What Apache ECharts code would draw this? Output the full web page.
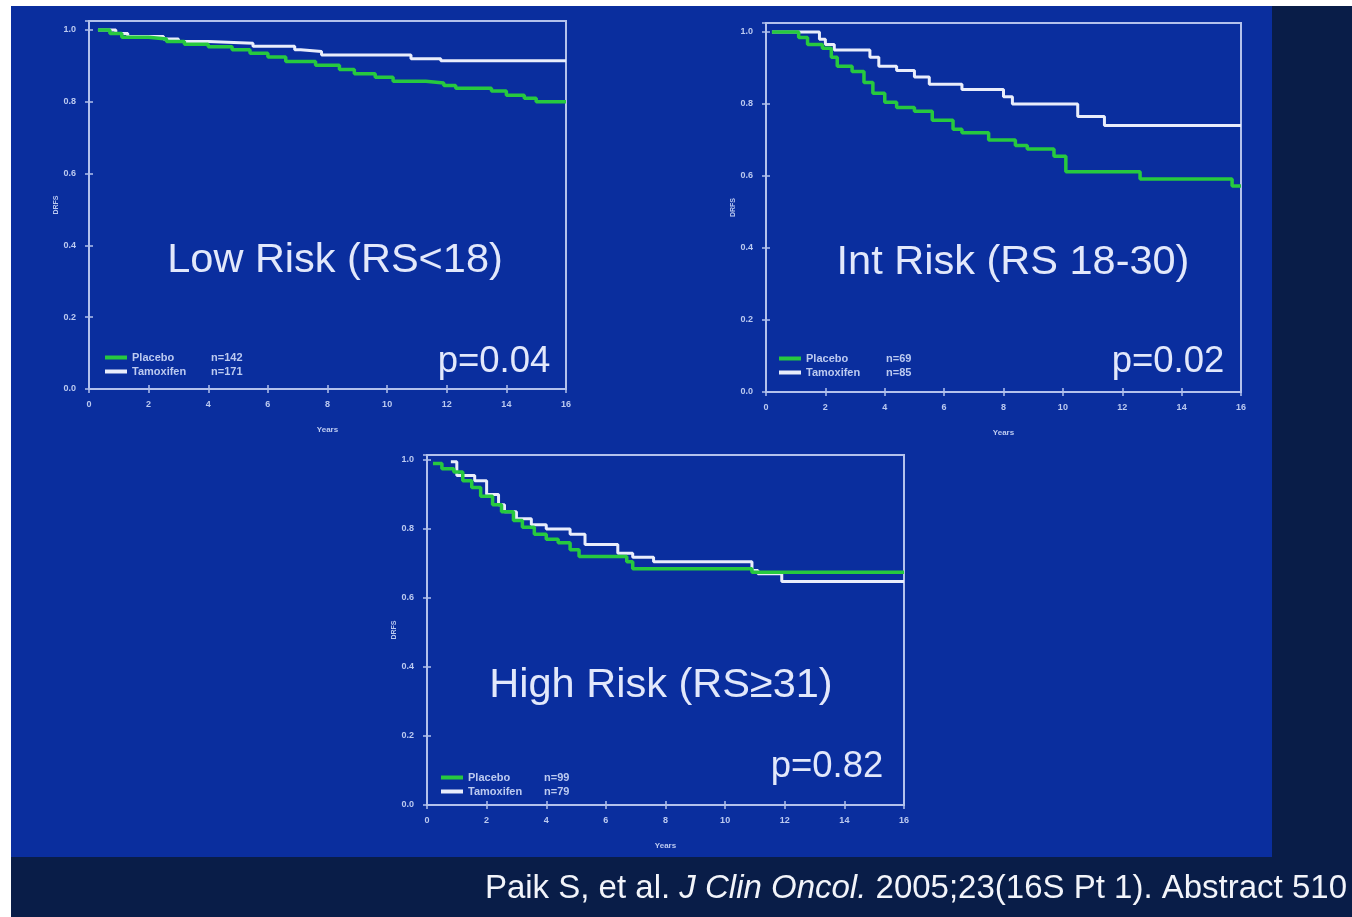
<!DOCTYPE html>
<html>
<head>
<meta charset="utf-8">
<script src="https://cdn.jsdelivr.net/npm/echarts@6/dist/echarts.min.js"></script>
<style>
html,body{margin:0;padding:0;background:#ffffff;}
#chart{width:1352px;height:917px;}
</style>
</head>
<body>
<div id="chart"></div>
<script>
// ---------- DATA ----------
var panelTitles = ['Low Risk (RS<18)', 'Int Risk (RS 18-30)', 'High Risk (RS\u226531)'];
var pValues = ['p=0.04', 'p=0.02', 'p=0.82'];
var seriesNames = ['Placebo', 'Tamoxifen'];
var nPlacebo = ['n=142', 'n=69', 'n=99'];
var nTamoxifen = ['n=171', 'n=85', 'n=79'];
var xTickValues = [0, 2, 4, 6, 8, 10, 12, 14, 16];
var yTickValues = [0.0, 0.2, 0.4, 0.6, 0.8, 1.0];
var xAxisName = 'Years';
var yAxisName = 'DRFS';
var citation = ['Paik S, et al. ', 'J Clin Oncol.', ' 2005;23(16S Pt 1). Abstract 510'];

// Kaplan-Meier steps: [years, DRFS after step]
var lowPlacebo = [[0.3,1.0],[0.7,0.99],[1.1,0.98],[2.0,0.975],[2.6,0.968],[3.2,0.96],[4.0,0.953],[4.8,0.945],[5.4,0.935],[6.0,0.925],[6.6,0.912],[7.6,0.902],[8.4,0.89],[8.9,0.878],[9.6,0.868],[10.2,0.857],[11.3,0.852],[11.9,0.845],[12.3,0.838],[13.5,0.83],[14.0,0.818],[14.6,0.81],[15.0,0.8],[16.0,0.8]];
var lowTamoxifen = [[0.3,1.0],[0.9,0.99],[1.3,0.982],[2.5,0.975],[3.0,0.968],[4.0,0.963],[5.5,0.955],[6.9,0.945],[7.1,0.94],[7.8,0.93],[10.8,0.92],[11.8,0.914],[16.0,0.914]];
var intPlacebo = [[0.2,1.0],[1.1,0.985],[1.4,0.965],[1.9,0.955],[2.2,0.93],[2.4,0.905],[2.9,0.89],[3.3,0.86],[3.6,0.83],[4.0,0.805],[4.4,0.79],[5.0,0.78],[5.6,0.755],[6.3,0.73],[6.6,0.72],[7.5,0.7],[8.4,0.685],[8.8,0.675],[9.7,0.655],[10.1,0.612],[12.6,0.592],[15.7,0.572],[16.0,0.572]];
var intTamoxifen = [[0.2,1.0],[1.8,0.98],[2.0,0.965],[2.3,0.95],[3.5,0.93],[3.8,0.905],[4.4,0.893],[5.0,0.875],[5.5,0.855],[6.6,0.84],[8.0,0.82],[8.3,0.8],[10.5,0.765],[11.4,0.74],[16.0,0.74]];
var highPlacebo = [[0.2,0.99],[0.5,0.975],[0.9,0.965],[1.2,0.94],[1.5,0.92],[1.8,0.895],[2.2,0.87],[2.5,0.85],[2.9,0.825],[3.2,0.805],[3.6,0.785],[4.0,0.77],[4.4,0.76],[4.8,0.74],[5.1,0.72],[6.7,0.705],[6.9,0.685],[10.9,0.675],[16.0,0.675]];
var highTamoxifen = [[0.8,0.995],[1.0,0.955],[1.6,0.94],[2.0,0.9],[2.4,0.87],[2.6,0.85],[3.0,0.83],[3.5,0.812],[4.0,0.8],[4.8,0.785],[5.3,0.755],[6.4,0.73],[6.9,0.718],[7.6,0.705],[10.9,0.68],[11.1,0.67],[11.9,0.648],[16.0,0.648]];

var placeboData = [lowPlacebo, intPlacebo, highPlacebo];
var tamoxifenData = [lowTamoxifen, intTamoxifen, highTamoxifen];

// ---------- LAYOUT / STYLE ----------
var grids = [
  {left: 89, top: 21, width: 477, height: 368, ymax: 1.025},
  {left: 766, top: 23, width: 475, height: 369, ymax: 1.025},
  {left: 427, top: 455, width: 477, height: 350, ymax: 1.0145}
];
var titlePos = [[335, 261], [1013, 263], [661, 686]];
var pPos = [[494, 362], [1168, 362], [827, 767]];
var legendPos = [[100, 347], [774, 348], [436, 767]];
var legendColW = [79, 80, 76];

var FRAME = '#b3c1ec';
var LABEL = '#bccaf0';
var TEXT = '#e2e8fb';
var GREEN = '#27c93f';
var WHITE = '#e9edfb';
var FONT = '"Liberation Sans", Arial, sans-serif';

var xMin = xTickValues[0], xMax = xTickValues[xTickValues.length - 1];
var yStep = yTickValues[1] - yTickValues[0];

var gridOpts = [], xAxes = [], yAxes = [], series = [], legends = [], graphics = [];

grids.forEach(function (g, i) {
  gridOpts.push({left: g.left, top: g.top, width: g.width, height: g.height,
    show: true, borderColor: FRAME, borderWidth: 2, backgroundColor: 'transparent', containLabel: false});
  xAxes.push({type: 'value', gridIndex: i, min: xMin, max: xMax, interval: 2,
    name: xAxisName, nameLocation: 'middle', nameGap: 37,
    nameTextStyle: {color: LABEL, fontSize: 8, fontWeight: 'bold', fontFamily: FONT},
    axisLine: {show: false}, splitLine: {show: false},
    axisTick: {show: true, inside: true, length: 4, lineStyle: {color: FRAME, width: 1.5}},
    axisLabel: {color: LABEL, fontSize: 9, fontWeight: 'bold', fontFamily: FONT, margin: 11}});
  xAxes.push({type: 'value', gridIndex: i, position: 'top', min: xMin, max: xMax, interval: 2,
    axisLine: {show: false}, splitLine: {show: false}, axisLabel: {show: false},
    axisTick: {show: true, inside: true, length: 4, lineStyle: {color: FRAME, width: 1.5}}});
  yAxes.push({type: 'value', gridIndex: i, min: 0, max: g.ymax, interval: yStep,
    name: yAxisName, nameLocation: 'middle', nameGap: 23,
    nameTextStyle: {color: LABEL, fontSize: 7, fontWeight: 'bold', fontFamily: FONT},
    axisLine: {show: false}, splitLine: {show: false},
    axisTick: {show: true, inside: true, length: 4, lineStyle: {color: FRAME, width: 1.5}},
    axisLabel: {color: LABEL, fontSize: 9, fontWeight: 'bold', fontFamily: FONT, margin: 13,
      formatter: function (v) { return Math.abs(v / yStep - Math.round(v / yStep)) < 1e-6 ? v.toFixed(1) : ''; }}});
  yAxes.push({type: 'value', gridIndex: i, position: 'right', min: 0, max: g.ymax, interval: yStep,
    axisLine: {show: false}, splitLine: {show: false}, axisLabel: {show: false},
    axisTick: {show: true, inside: true, length: 4, lineStyle: {color: FRAME, width: 1.5}}});

  series.push({name: seriesNames[1], type: 'line', step: 'end', xAxisIndex: 2 * i, yAxisIndex: 2 * i,
    data: tamoxifenData[i], symbol: 'none', silent: true, z: 3,
    lineStyle: {color: WHITE, width: 3}, itemStyle: {color: WHITE}});
  series.push({name: seriesNames[0], type: 'line', step: 'end', xAxisIndex: 2 * i, yAxisIndex: 2 * i,
    data: placeboData[i], symbol: 'none', silent: true, z: 4,
    lineStyle: {color: GREEN, width: 3.5}, itemStyle: {color: GREEN}});

  (function (idx) {
    legends.push({orient: 'vertical', left: legendPos[idx][0], top: legendPos[idx][1],
      icon: 'rect', itemWidth: 22, itemHeight: 4, itemGap: 3, selectedMode: false,
      data: [seriesNames[0], seriesNames[1]],
      formatter: function (name) {
        var n = name === seriesNames[0] ? nPlacebo[idx] : nTamoxifen[idx];
        return '{a|' + name + '}{b|' + n + '}';
      },
      textStyle: {color: LABEL, fontSize: 11, fontFamily: FONT,
        rich: {a: {width: legendColW[idx], color: LABEL, fontSize: 11, fontWeight: 'bold', fontFamily: FONT},
               b: {color: LABEL, fontSize: 11, fontWeight: 'bold', fontFamily: FONT}}}});
  })(i);

  graphics.push({type: 'text', x: titlePos[i][0], y: titlePos[i][1], z: 50, silent: true,
    style: {text: panelTitles[i], fill: TEXT, font: '41.5px ' + FONT, textAlign: 'center', textVerticalAlign: 'middle'}});
  graphics.push({type: 'text', x: pPos[i][0], y: pPos[i][1], z: 50, silent: true,
    style: {text: pValues[i], fill: TEXT, font: '36.5px ' + FONT, textAlign: 'center', textVerticalAlign: 'middle'}});
});

var bgShapes = [
  {type: 'rect', shape: {x: 0, y: 0, width: 1352, height: 6}, style: {fill: '#ffffff'}},
  {type: 'rect', shape: {x: 0, y: 0, width: 11, height: 917}, style: {fill: '#ffffff'}},
  {type: 'rect', shape: {x: 1272, y: 6, width: 80, height: 911}, style: {fill: '#091d48'}},
  {type: 'rect', shape: {x: 11, y: 857, width: 1341, height: 60}, style: {fill: '#091d48'}}
];
bgShapes.forEach(function (s) { s.silent = true; s.z = -10; });

var citeEl = {type: 'text', x: 1347, y: 889, z: 60, silent: true,
  style: {text: '{n|' + citation[0] + '}{i|' + citation[1] + '}{n|' + citation[2] + '}',
    textAlign: 'right', textVerticalAlign: 'middle', fill: '#f2f4fa',
    rich: {n: {fontSize: 33, fontFamily: FONT, fill: '#f2f4fa'},
           i: {fontSize: 33, fontFamily: FONT, fontStyle: 'italic', fill: '#f2f4fa'}}}};

var chart = echarts.init(document.getElementById('chart'), null, {renderer: 'canvas'});
chart.setOption({
  backgroundColor: '#0a2e9e',
  animation: false,
  grid: gridOpts,
  xAxis: xAxes,
  yAxis: yAxes,
  legend: legends,
  series: series,
  graphic: bgShapes.concat(graphics).concat([citeEl])
});
</script>
</body>
</html>
